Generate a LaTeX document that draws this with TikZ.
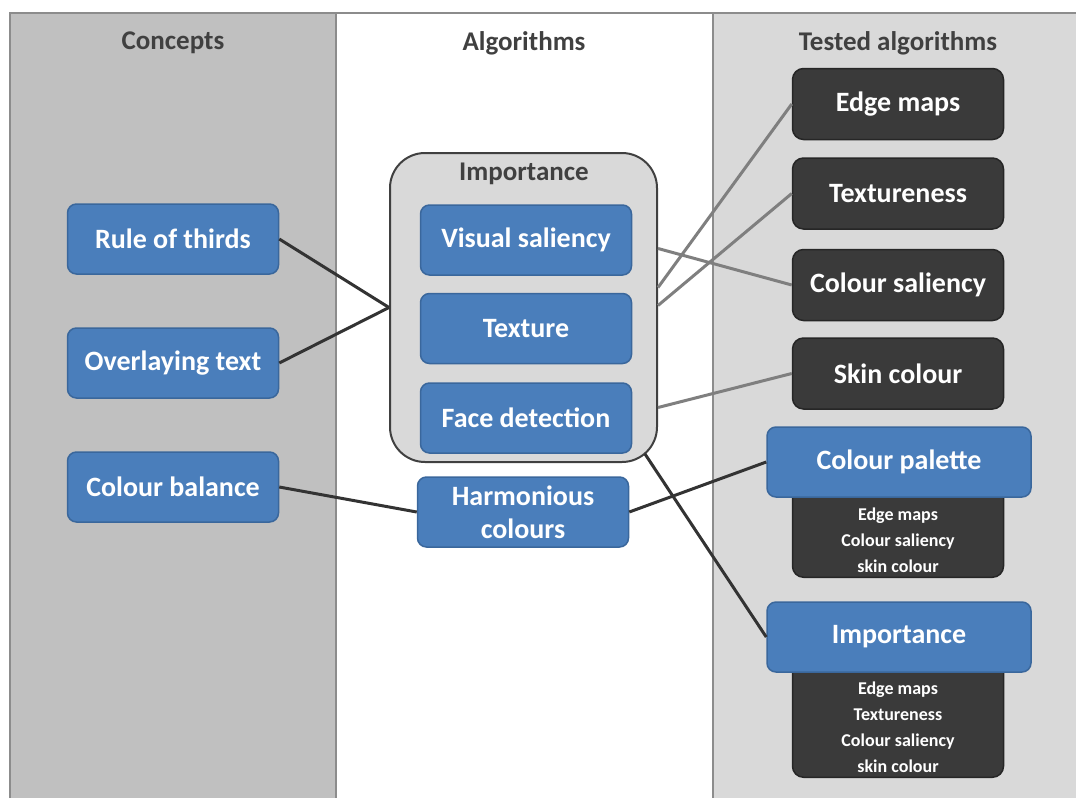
\documentclass[tikz,border=0pt]{standalone}
\usepackage{fontspec}
\setmainfont{Carlito}
\usepackage{xcolor}
\usetikzlibrary{positioning,calc}

\definecolor{conceptgray}{HTML}{C0C0C0}
\definecolor{testedgray}{HTML}{D9D9D9}
\definecolor{framegray}{HTML}{8C8C8C}
\definecolor{algoblue}{HTML}{4A7EBB}
\definecolor{algoborder}{HTML}{3A679C}
\definecolor{testdark}{HTML}{3A3A3A}
\definecolor{headgray}{HTML}{404040}
\definecolor{linkgray}{HTML}{7F7F7F}

\tikzset{
  bluebox/.style={draw=algoborder, line width=1.5pt, fill=algoblue, rounded corners=9pt, minimum width=211pt, minimum height=70pt, text=white, font=\fontsize{28}{33}\selectfont\bfseries, align=center, inner sep=0pt},
  darkbox/.style={draw=black!85, line width=1.5pt, fill=testdark, rounded corners=11pt, minimum width=211pt, minimum height=71pt, text=white, font=\fontsize{28}{33}\selectfont\bfseries},
  listbox/.style={darkbox, minimum height=0pt, inner ysep=5pt, font=\fontsize{18}{26}\selectfont\bfseries, align=center},
  header/.style={text=headgray, font=\fontsize{27}{32}\selectfont\bfseries},
  link/.style={line width=3pt, draw=black!80},
  testlink/.style={line width=3pt, draw=linkgray}
}

\begin{document}
\begin{tikzpicture}[x=1pt, y=-1pt]
    \useasboundingbox (0,0) rectangle (1076,798);
    % Columns
    \fill[conceptgray] (10,13) rectangle (336,798);
    \fill[testedgray] (713,13) rectangle (1076,798);
    \draw[framegray, line width=2pt] (10,798) -- (10,13) -- (1076,13);
    \draw[framegray, line width=2pt] (336,13) -- (336,798);
    \draw[framegray, line width=2pt] (713,13) -- (713,798);

    % Headers
    \node[header] (concepts) at (173,43) {Concepts};
    \node[header] (algorithms) at (524,43) {Algorithms};
    \node[header] (tested) at (898,43) {Tested algorithms};

    % Concepts
    \node[bluebox] (thirds) at (173,239) {Rule of thirds};
    \node[bluebox] (overlay) at (173,363) {Overlaying text};
    \node[bluebox] (balance) at (173,487) {Colour balance};

    % Algorithms
    \node[draw=headgray, line width=2pt, fill=testedgray, rounded corners=35pt, minimum width=267pt, minimum height=309pt] (imp) at (523.5,307.5) {};
    \node[header] (implabel) at (524,174) {Importance};
    \node[bluebox] (visual) at (526,240) {Visual saliency};
    \node[bluebox, below=17pt of visual] (texture) {Texture};
    \node[bluebox, below=18pt of texture] (face) {Face detection};
    \node[bluebox] (harmonious) at (523,512) {Harmonious\\colours};

    % Tested algorithms
    \node[darkbox] (edge) at (898,104) {Edge maps};
    \node[darkbox, below=17pt of edge] (textureness) {Textureness};
    \node[darkbox, below=19pt of textureness] (colsal) {Colour saliency};
    \node[darkbox, below=16pt of colsal] (skin) {Skin colour};
    \node[listbox, anchor=south] (palettelist) at (898,578) {\rule{0pt}{39pt}Edge maps\\Colour saliency\\skin colour};
    \node[bluebox, minimum width=264pt] (palette) at (899,462) {Colour palette};
    \node[listbox, anchor=south] (implist) at (898,778) {\rule{0pt}{75pt}Edge maps\\Textureness\\Colour saliency\\skin colour};
    \node[bluebox, minimum width=264pt] (impright) at (899,637) {Importance};

    % Connections
    \coordinate (outA) at ($(imp.east)+(0,-59)$);
    \coordinate (outB) at ($(imp.east)+(0,-20)$);
    \coordinate (outC) at ($(imp.east)+(0,-2)$);
    \coordinate (outD) at ($(imp.east)+(0,100)$);
    \coordinate (outE) at ($(imp.south east)+(-13,-9)$);
    \draw[link] (thirds.east) -- (imp.west);
    \draw[link] (overlay.east) -- (imp.west);
    \draw[link] (balance.east) -- (harmonious.west);
    \draw[link] (harmonious.east) -- (palette.west);
    \draw[testlink] (outA) -- (colsal.west);
    \draw[testlink] (outB) -- (edge.west);
    \draw[testlink] (outC) -- (textureness.west);
    \draw[testlink] (outD) -- (skin.west);
    \draw[link] (outE) -- (impright.west);
\end{tikzpicture}
\end{document}
